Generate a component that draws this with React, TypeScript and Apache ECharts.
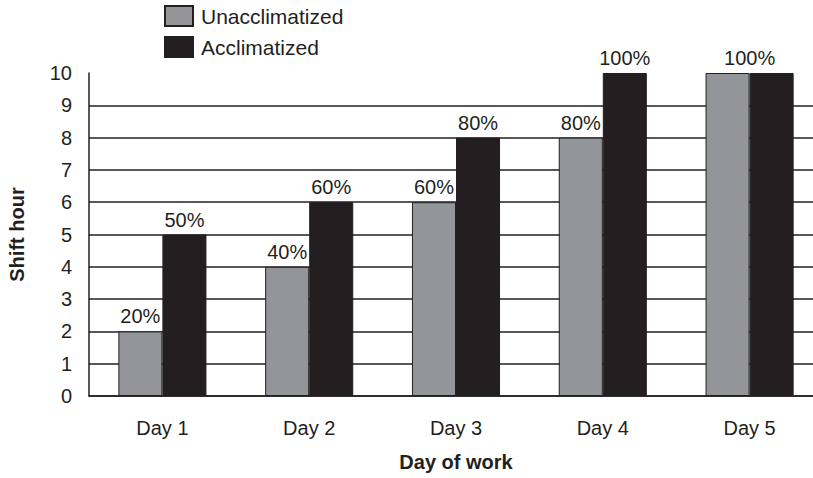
import React, { useEffect, useRef } from "react";
import * as echarts from "echarts";

const categories = ["Day 1", "Day 2", "Day 3", "Day 4", "Day 5"];
const unacclimatized = [2, 4, 6, 8, 10];
const acclimatized = [5, 6, 8, 10, 10];
const unaccPct: (string | null)[] = ["20%", "40%", "60%", "80%", null];
const accPct: (string | null)[] = ["50%", "60%", "80%", "100%", "100%"];
const yTicks = [0, 1, 2, 3, 4, 5, 6, 7, 8, 9, 10];

const INK = "#231f20";
const GRAY = "#939598";
const FONT = "Liberation Sans, Arial, Helvetica, sans-serif";

export default function App() {
  const ref = useRef<HTMLDivElement>(null);
  useEffect(() => {
    if (!ref.current) return;
    const chart = echarts.init(ref.current, null, { renderer: "svg" });
    const labelStyle = {
      show: true,
      position: "top" as const,
      distance: 5,
      color: INK,
      fontSize: 20,
      fontFamily: FONT,
    };
    chart.setOption({
      animation: false,
      textStyle: { fontFamily: FONT, color: INK },
      legend: {
        orient: "vertical",
        left: 159,
        top: 0,
        itemWidth: 28,
        itemHeight: 20,
        itemGap: 9,
        icon: "rect",
        textStyle: { fontSize: 21, color: INK, fontFamily: FONT, padding: [0, 0, 0, 3] },
        data: ["Unacclimatized", "Acclimatized"],
      },
      grid: { left: 89, top: 73, width: 734, bottom: 82, outerBoundsMode: "none" },
      xAxis: {
        type: "category",
        data: categories,
        name: "Day of work",
        nameLocation: "middle",
        nameGap: 56,
        nameTextStyle: { fontSize: 20, fontWeight: "bold", color: INK, fontFamily: FONT },
        axisTick: { show: false },
        axisLine: { lineStyle: { color: INK, width: 1.5 } },
        axisLabel: { fontSize: 20, color: INK, margin: 22, fontFamily: FONT },
      },
      yAxis: {
        type: "value",
        min: yTicks[0],
        max: yTicks[yTicks.length - 1],
        interval: 1,
        name: "Shift hour",
        nameLocation: "middle",
        nameGap: 62,
        nameTextStyle: { fontSize: 20, fontWeight: "bold", color: INK, fontFamily: FONT },
        axisTick: { show: false },
        axisLine: { show: true, lineStyle: { color: INK, width: 1.5 } },
        axisLabel: { fontSize: 20, color: INK, margin: 17, fontFamily: FONT },
        splitLine: {
          show: true,
          showMaxLine: false,
          lineStyle: { color: INK, width: 1.5 },
        },
      },
      series: [
        {
          name: "Unacclimatized",
          type: "bar",
          barWidth: "30%",
          barGap: "0%",
          itemStyle: { color: GRAY, borderColor: INK, borderWidth: 1 },
          data: unacclimatized.map((v, i) => ({
            value: v,
            label: { ...labelStyle, show: unaccPct[i] !== null, formatter: unaccPct[i] ?? "" },
          })),
        },
        {
          name: "Acclimatized",
          type: "bar",
          barWidth: "30%",
          barGap: "0%",
          itemStyle: { color: INK, borderColor: INK, borderWidth: 1 },
          data: acclimatized.map((v, i) => ({
            value: v,
            label: {
              ...labelStyle,
              show: accPct[i] !== null,
              formatter: accPct[i] ?? "",
              offset: unaccPct[i] === null ? [-22, 0] : [0, 0],
            },
          })),
        },
      ],
    });
    return () => chart.dispose();
  }, []);
  return <div ref={ref} style={{ width: 813, height: 478, position: "absolute", left: 0, top: 0 }} />;
}
